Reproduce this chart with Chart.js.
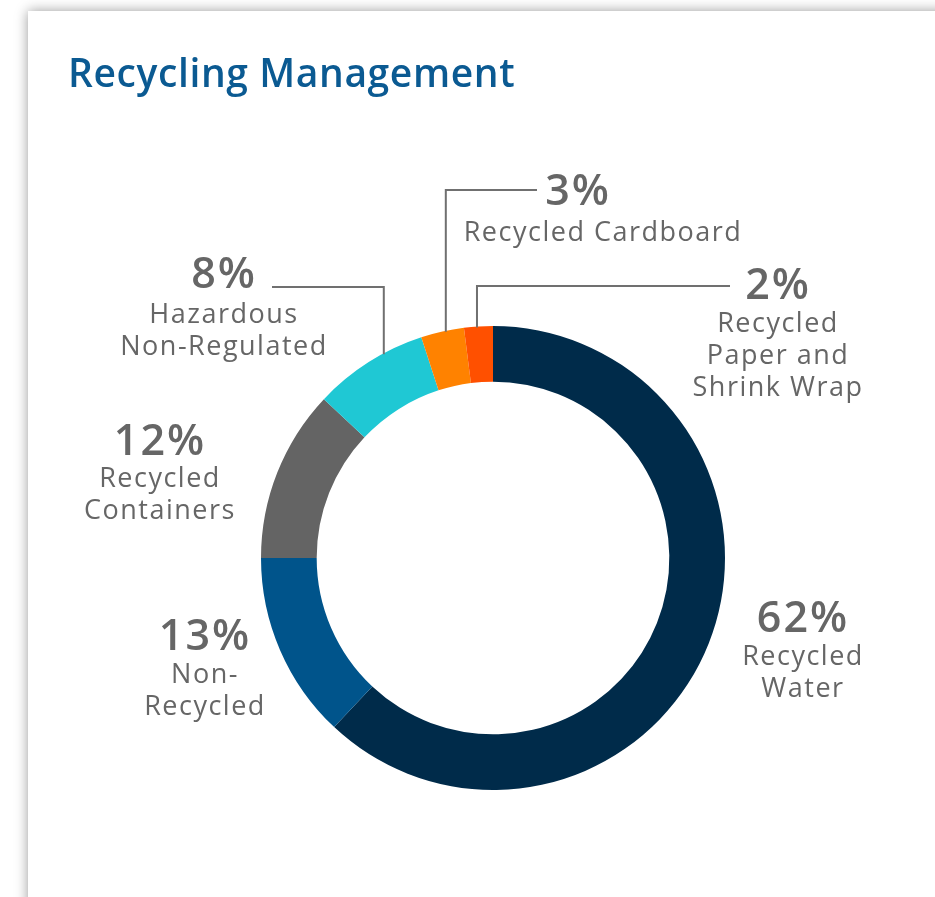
<!DOCTYPE html>
<html>
<head>
<meta charset="utf-8">
<script src="https://cdn.jsdelivr.net/npm/chart.js@4.4.1/dist/chart.umd.min.js"></script>
<style>
    html, body { margin: 0; padding: 0; background: #fff; overflow: hidden; }
    body { width: 935px; height: 897px; position: relative; }
    .card {
        position: absolute; left: 28px; top: 11px; width: 1000px; height: 1000px;
        background: #fff; box-shadow: 0 0 12px rgba(0, 0, 0, 0.4);
    }
    .wrap { position: absolute; left: 0; top: 0; width: 935px; height: 897px; }
</style>
</head>
<body>
<div class="card"></div>
<div class="wrap"><canvas id="chart"></canvas></div>
<script>
// Recycling data (percent)
const categories = ["Recycled Water", "Non-Recycled", "Recycled Containers", "Hazardous Non-Regulated", "Recycled Cardboard", "Recycled Paper and Shrink Wrap"];
const shares = [62, 13, 12, 8, 3, 2];
const labelLines = [
    ["Recycled", "Water"],
    ["Non-", "Recycled"],
    ["Recycled", "Containers"],
    ["Hazardous", "Non-Regulated"],
    ["Recycled Cardboard"],
    ["Recycled", "Paper and", "Shrink Wrap"]
];
const colors = ["#002b4a", "#00548b", "#646464", "#1fc8d4", "#ff8200", "#ff5000"];

// where each label sits: percent x/baseline, text x, first line baseline
const labelSpots = [
    { px: 803, py: 632, tx: 803, ty: 665 },
    { px: 205, py: 650, tx: 205, ty: 683 },
    { px: 160, py: 455, tx: 160, ty: 487 },
    { px: 224, py: 288, tx: 224, ty: 323 },
    { px: 578, py: 205, tx: 603, ty: 241 },
    { px: 778, py: 299, tx: 778, ty: 332 }
];
// leader lines: slice index, where on the slice, elbow y, far end x
const leaders = [
    { i: 4, t: 0.58, y: 190, x: 537 },
    { i: 5, t: 0.45, y: 286, x: 730 },
    { i: 3, t: 0.65, y: 287, x: 272 }
];

const FONT = "'Open Sans', sans-serif";

const labelPlugin = {
    id: "labels",
    afterDraw(chart) {
        const ctx = chart.ctx;
        const arcs = chart.getDatasetMeta(0).data;
        ctx.save();

        // title
        ctx.fillStyle = "#0b5a92";
        ctx.font = "600 39px " + FONT;
        ctx.letterSpacing = "0.6px";
        ctx.textAlign = "left";
        ctx.textBaseline = "alphabetic";
        ctx.fillText("Recycling Management", 68, 87);

        // leader lines
        ctx.strokeStyle = "#707070";
        ctx.lineWidth = 2;
        leaders.forEach(l => {
            const a = arcs[l.i];
            const ang = a.startAngle + (a.endAngle - a.startAngle) * l.t;
            const ax = a.x + Math.cos(ang) * a.outerRadius;
            const ay = a.y + Math.sin(ang) * a.outerRadius;
            ctx.beginPath();
            ctx.moveTo(ax, ay + 1);
            ctx.lineTo(ax, l.y);
            ctx.lineTo(l.x, l.y);
            ctx.stroke();
        });

        // labels
        ctx.fillStyle = "#666666";
        ctx.textAlign = "center";
        labelSpots.forEach((s, i) => {
            ctx.letterSpacing = "2px";
            ctx.font = "600 43px " + FONT;
            ctx.fillText(shares[i] + "%", s.px, s.py);
            ctx.letterSpacing = "1.5px";
            ctx.font = "400 27px " + FONT;
            labelLines[i].forEach((t, k) => ctx.fillText(t, s.tx, s.ty + k * 32));
        });
        ctx.restore();
    }
};

new Chart(document.getElementById("chart"), {
    type: "doughnut",
    data: {
        labels: categories,
        datasets: [{
            data: shares,
            backgroundColor: colors,
            borderWidth: 0
        }]
    },
    options: {
        responsive: true,
        maintainAspectRatio: false,
        devicePixelRatio: 1,
        animation: false,
        cutout: "76%",
        layout: { padding: { left: 261, top: 326, right: 210, bottom: 107 } },
        plugins: {
            legend: { display: false },
            tooltip: { enabled: false }
        }
    },
    plugins: [labelPlugin]
});
</script>
</body>
</html>
